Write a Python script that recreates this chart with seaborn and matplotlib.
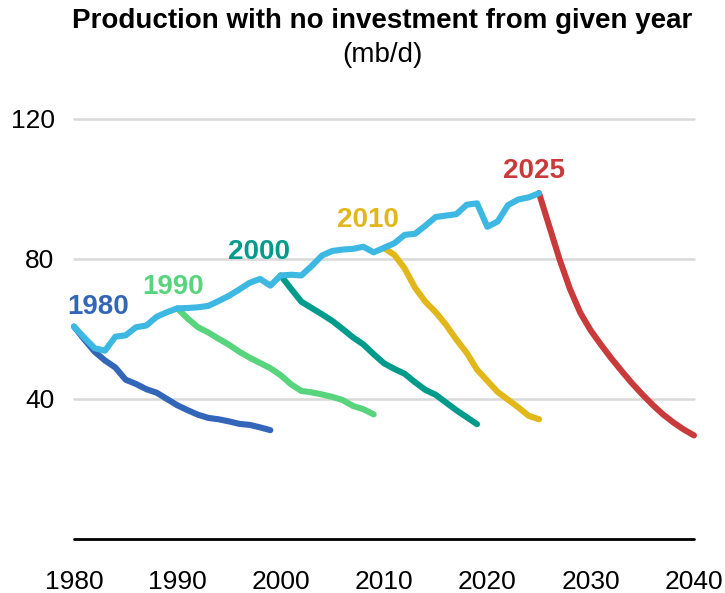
import numpy as np
import pandas as pd
import matplotlib
matplotlib.use("Agg")
import matplotlib.pyplot as plt
import seaborn as sns

# ---- data (mb/d) ----
years_hist = list(range(1980, 2026))
total_production = [60.7, 57.5, 54.5, 53.8, 57.8, 58.2, 60.5, 61.0, 63.5, 64.8,
                    65.9, 66.0, 66.2, 66.6, 68.0, 69.5, 71.3, 73.2, 74.3, 72.4,
                    75.3, 75.5, 75.3, 78.0, 81.0, 82.3, 82.7, 82.9, 83.5, 81.9,
                    83.2, 84.5, 86.9, 87.2, 89.5, 92.0, 92.4, 92.8, 95.5, 95.9,
                    89.2, 90.7, 95.4, 97.0, 97.6, 98.8]

years_1980 = list(range(1980, 2000))
decline_1980 = [60.7, 57.0, 53.5, 51.0, 49.0, 45.5, 44.3, 42.8, 41.8, 40.0,
                38.2, 36.8, 35.5, 34.6, 34.2, 33.6, 32.9, 32.6, 31.9, 31.1]

years_1990 = list(range(1990, 2010))
decline_1990 = [65.9, 63.0, 60.5, 59.0, 57.2, 55.5, 53.5, 51.8, 50.3, 48.8,
                46.8, 44.2, 42.3, 41.9, 41.3, 40.6, 39.7, 38.0, 37.1, 35.6]

years_2000 = list(range(2000, 2020))
decline_2000 = [75.3, 71.5, 67.8, 66.0, 64.2, 62.3, 60.0, 57.6, 55.6, 52.8,
                50.2, 48.6, 47.2, 44.8, 42.6, 41.2, 39.0, 36.8, 34.8, 32.8]

years_2010 = list(range(2010, 2026))
decline_2010 = [83.1, 81.2, 77.3, 71.8, 67.8, 64.8, 61.2, 57.0, 53.2, 48.4,
                45.2, 42.0, 39.8, 37.6, 35.2, 34.2]

years_2025 = list(range(2025, 2041))
decline_2025 = [98.8, 89.3, 79.8, 71.4, 64.6, 59.6, 55.5, 51.6, 48.0, 44.5,
                41.3, 38.3, 35.6, 33.3, 31.3, 29.6]

series_names = ["1980", "1990", "2000", "2010", "2025", "Total"]
series_colors = {"1980": "#3366B9", "1990": "#58D47D", "2000": "#009B8B",
                 "2010": "#E2B719", "2025": "#C93B3A", "Total": "#3CB8E3"}
label_pos = {"1980": (1982.3, 66.4), "1990": (1989.6, 72.1), "2000": (1997.9, 81.9),
             "2010": (2008.4, 91.1), "2025": (2024.5, 105.1)}

frames = []
for name, xs, ys in [("1980", years_1980, decline_1980),
                     ("1990", years_1990, decline_1990),
                     ("2000", years_2000, decline_2000),
                     ("2010", years_2010, decline_2010),
                     ("2025", years_2025, decline_2025),
                     ("Total", years_hist, total_production)]:
    frames.append(pd.DataFrame({"year": xs, "value": ys, "series": name}))
df = pd.concat(frames, ignore_index=True)

sns.set_theme(style="white")
plt.rcParams["font.family"] = ["Liberation Sans", "DejaVu Sans"]

fig = plt.figure(figsize=(7.25, 5.93), dpi=100)
ax = fig.add_axes([74 / 725, 1 - 539 / 593, (694 - 74) / 725, (539 - 119) / 593])

for name in series_names:
    sub = df[df["series"] == name]
    sns.lineplot(data=sub, x="year", y="value", ax=ax, color=series_colors[name],
                 linewidth=4.4, solid_capstyle="round", solid_joinstyle="round",
                 clip_on=False, legend=False, zorder=3)

for name, (lx, ly) in label_pos.items():
    ax.text(lx, ly, name, color=series_colors[name], fontsize=20, fontweight="bold",
            ha="center", va="center")

ax.set_xlim(1980, 2040)
ax.set_ylim(0, 120)
ax.set_xticks([1980, 1990, 2000, 2010, 2020, 2030, 2040])
ax.set_yticks([40, 80, 120])
for yv in [40, 80, 120]:
    ax.axhline(yv, color="#D9D9D9", linewidth=1.8, zorder=1, clip_on=False)
ax.axhline(0, color="black", linewidth=2.0, zorder=2, clip_on=False)
for s in ax.spines.values():
    s.set_visible(False)
ax.grid(False)
ax.tick_params(axis="x", length=0, pad=22, labelsize=19, labelcolor="black")
ax.tick_params(axis="y", length=0, pad=14, labelsize=19, labelcolor="black")
ax.set_xlabel("")
ax.set_ylabel("")

fig.text(382 / 725, 1 - 28 / 593, "Production with no investment from given year",
         ha="center", va="baseline", fontsize=20, fontweight="bold", color="black")
fig.text(382 / 725, 1 - 55 / 593, "(mb/d)", ha="center", va="center",
         fontsize=20, color="black")

fig.savefig("out.png", dpi=100, facecolor="white")
